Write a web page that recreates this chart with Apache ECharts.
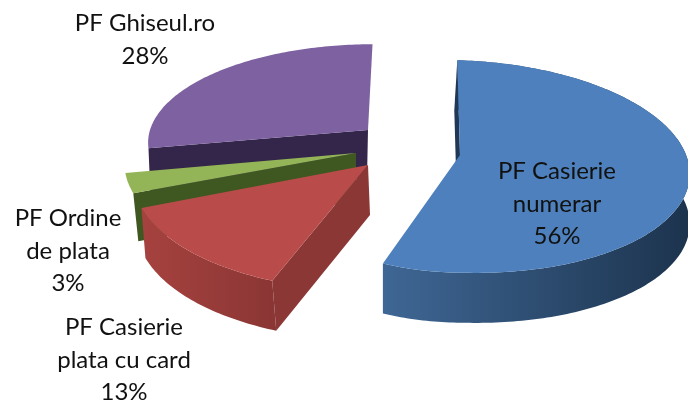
<!DOCTYPE html>
<html>
<head>
<meta charset="utf-8">
<style>
  html, body { margin: 0; padding: 0; background: #fff; }
  #chart { width: 688px; height: 402px; }
</style>
<script src="https://cdn.jsdelivr.net/npm/echarts@6/dist/echarts.min.js"></script>
</head>
<body>
<div id="chart"></div>
<script>
// clockwise from 12 o'clock, same order as the source pie
const names = ['PF Casierie\nnumerar', 'PF Casierie\nplata cu card', 'PF Ordine\nde plata', 'PF Ghiseul.ro'];
const values = [56, 13, 3, 28];

// where each exploded slice sits on the page
const layout = [
  { cx: 460, cy: 155, rx: 228, rxLeft: 196, ry: 105, skew: -3, tilt: 6, depth: 50, cutShift: -3, apexShift: -3, wallShift: 0, wall: true, labelX: 557, labelY: 204 },
  { cx: 368, cy: 165, rx: 234, ry: 112, skew: 0, tilt: 0, depth: 50, cutShift: 4, apexShift: 2, wallShift: 4, wall: true, labelX: 124, labelY: 360 },
  { cx: 356, cy: 153, rx: 230, ry: 105, skew: 0, tilt: 0, depth: 48, cutShift: 5, apexShift: 0, wallShift: 0, wall: false, labelX: 68, labelY: 251 },
  { cx: 368, cy: 130, rx: 218, ry: 95, skew: 5, tilt: 0, depth: 48, cutShift: 2, apexShift: -1, wallShift: 0, wall: false, labelX: 145, labelY: 40 }
];

const topColors = ['#4d80bc', '#b94c4a', '#93b557', '#7e61a1'];
const wallColors = [['#3f6795', '#1c334d'], ['#a6423f', '#8a3634'], ['#4a6526', '#4a6526'], ['#35274c', '#35274c']];
const cutColors = ['#1f3855', '#8b3735', '#3f5720', '#34264a'];
// painter's order, back slice first
const paintOrder = [40, 30, 20, 10];

const PERSPECTIVE = 0.108;
const total = values.reduce((a, b) => a + b, 0);

function project(p, deg, down, shift) {
  const t = deg * Math.PI / 180;
  const u = Math.sin(t);
  const v = Math.cos(t);
  const s = 1 / (1 + PERSPECTIVE * v);
  const rx = u < 0 && p.rxLeft ? p.rxLeft : p.rx;
  return [
    p.cx + (rx * u + p.skew * v) * s + (shift || 0),
    p.cy + (p.tilt * Math.max(u, 0) - p.ry * v) * s + (down || 0)
  ];
}

function arc(p, from, to, down, shift) {
  const pts = [];
  const steps = Math.max(2, Math.ceil(to - from));
  for (let i = 0; i <= steps; i++) {
    pts.push(project(p, from + (to - from) * i / steps, down, shift));
  }
  return pts;
}

function renderSlice(params, api) {
  const i = params.dataIndex;
  const p = layout[i];
  const z = paintOrder[i];
  const before = values.slice(0, i).reduce((a, b) => a + b, 0);
  const from = before / total * 360;
  const to = (before + api.value(0)) / total * 360;
  const children = [];

  const rim = arc(p, from, to, 0);
  if (p.wall) {
    const lower = arc(p, from, to, p.depth, p.wallShift).reverse();
    children.push({
      type: 'polygon',
      z2: z,
      shape: { points: rim.concat(lower) },
      style: {
        fill: new echarts.graphic.LinearGradient(0, 0, 1, 0, [
          { offset: 0, color: wallColors[i][0] },
          { offset: 1, color: wallColors[i][1] }
        ])
      }
    });
  }

  // the cut face on the slice's starting edge
  const outer = project(p, from, 0);
  children.push({
    type: 'polygon',
    z2: z + 1,
    shape: {
      points: [
        [p.cx, p.cy],
        outer,
        [outer[0] + p.cutShift, outer[1] + p.depth],
        [p.cx + p.apexShift, p.cy + p.depth]
      ]
    },
    style: { fill: cutColors[i] }
  });

  children.push({
    type: 'polygon',
    z2: z + 2,
    shape: { points: [[p.cx, p.cy]].concat(rim) },
    style: { fill: topColors[i] }
  });

  children.push({
    type: 'text',
    z2: 100,
    style: {
      text: names[i] + '\n' + api.value(0) + '%',
      x: p.labelX,
      y: p.labelY,
      align: 'center',
      verticalAlign: 'middle',
      font: '24px Lato, "Open Sans", sans-serif',
      lineHeight: 32.5,
      fill: '#111'
    }
  });

  return { type: 'group', children: children };
}

const chart = echarts.init(document.getElementById('chart'), null, { renderer: 'canvas' });
chart.setOption({
  animation: false,
  backgroundColor: '#fff',
  series: [{
    type: 'custom',
    coordinateSystem: 'none',
    renderItem: renderSlice,
    data: values.map(v => [v])
  }]
});
</script>
</body>
</html>
